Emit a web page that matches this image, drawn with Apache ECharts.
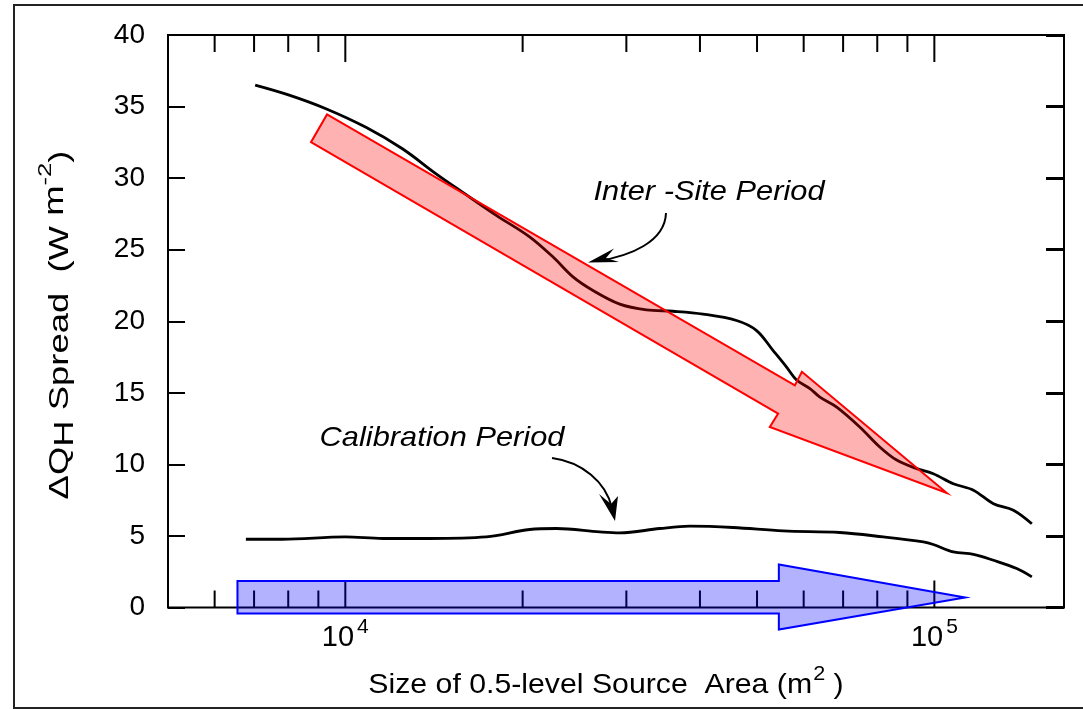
<!DOCTYPE html>
<html><head><meta charset="utf-8">
<script src="https://cdn.jsdelivr.net/npm/echarts@6/dist/echarts.min.js"></script>
<style>html,body{margin:0;padding:0;background:#fff}#c{width:1083px;height:709px}</style>
</head><body><div id="c"></div>
<script>
// ---- data ----
const interSiteX = [7030, 8030, 9270, 10840, 12500, 14260, 15830, 18040, 20550, 22510, 24350, 26330, 29230, 32450, 36010, 40500, 46150, 49910, 53250, 56120, 58360, 61480, 63930, 68270, 74770, 80870, 86310, 93350, 99600, 107700, 116500, 126000, 136200, 146400];
const interSiteY = [36.5, 35.8, 34.85, 33.55, 32.05, 30.3, 29.0, 27.4, 25.9, 24.5, 23.1, 22.15, 21.2, 20.8, 20.7, 20.5, 20.05, 19.35, 17.95, 16.8, 15.9, 15.3, 14.7, 14.0, 12.6, 11.2, 10.3, 9.7, 9.35, 8.65, 8.2, 7.25, 6.8, 5.85];
const calibrationX = [6780, 7820, 10000, 11570, 13890, 17350, 20550, 22810, 27030, 29230, 34190, 38430, 45530, 55380, 69130, 81900, 95790, 99600, 107700, 116500, 126000, 138000, 146400];
const calibrationY = [4.77, 4.77, 4.93, 4.82, 4.82, 4.93, 5.45, 5.52, 5.28, 5.21, 5.52, 5.68, 5.59, 5.35, 5.24, 4.93, 4.58, 4.40, 3.88, 3.72, 3.30, 2.72, 2.14];

const xMin = 5000, xMax = 166000;
const yMin = 0, yMax = 40, yStep = 5;
const xMajorTicks = [10000, 100000];
const xTickExponents = ['4', '5'];
const xMinorTicks = [6000, 7000, 8000, 9000, 20000, 30000, 40000, 50000, 60000, 70000, 80000, 90000];

// block-arrow outlines, in data units (x = area, y = spread)
const redArrowX = [9309, 57970, 59580, 105000, 52560, 54300, 8744];
const redArrowY = [34.45, 15.52, 16.47, 8.00, 12.61, 13.55, 32.51];
const blueArrowX = [6560, 54450, 54450, 112800, 54450, 54450, 6560];
const blueArrowY = [1.86, 1.86, 3.00, 0.70, -1.54, -0.42, -0.42];

// ---- chart ----
const FONT = '"Liberation Sans", Arial, sans-serif';
const chart = echarts.init(document.getElementById('c'), null, {renderer: 'canvas'});

function pairs(xs, ys) { return xs.map((x, i) => [x, ys[i]]); }

function tickRenderer(len) {
  return function (params, api) {
    const v = api.value(0);
    const b = api.coord([v, yMin]);
    const t = api.coord([v, yMax]);
    return {
      type: 'group',
      children: [
        {type: 'line', shape: {x1: b[0], y1: b[1], x2: b[0], y2: b[1] - len}, style: {stroke: '#000', lineWidth: 2}},
        {type: 'line', shape: {x1: t[0], y1: t[1], x2: t[0], y2: t[1] + len}, style: {stroke: '#000', lineWidth: 2}}
      ]
    };
  };
}

function arrowRenderer(xs, ys, fill, stroke) {
  return function (params, api) {
    const pts = xs.map((x, i) => api.coord([x, ys[i]]));
    return {type: 'polygon', shape: {points: pts}, style: {fill: fill, stroke: stroke, lineWidth: 2, lineJoin: 'miter'}};
  };
}

const expByValue = {};
xMajorTicks.forEach((v, i) => { expByValue[v] = xTickExponents[i]; });

const option = {
  animation: false,
  backgroundColor: '#fff',
  grid: {left: 168, right: 19, top: 35, bottom: 101.5, show: true, borderColor: '#000', borderWidth: 2, backgroundColor: 'transparent'},
  xAxis: {
    type: 'log', logBase: 10, min: xMin, max: xMax,
    axisLine: {show: false}, axisTick: {show: false}, splitLine: {show: false}, minorTick: {show: false},
    axisLabel: {
      margin: 15,
      fontSize: 28, fontFamily: FONT, color: '#000',
      formatter: function (v) {
        const e = Math.log10(v);
        const r = Math.round(e);
        if (Math.abs(e - r) < 1e-9 && expByValue[Math.pow(10, r)] !== undefined) {
          return '{b|10}{s|' + expByValue[Math.pow(10, r)] + '}';
        }
        return '';
      },
      rich: {
        b: {fontSize: 29, fontFamily: FONT, color: '#000', lineHeight: 30, verticalAlign: 'middle'},
        s: {fontSize: 21, fontFamily: FONT, color: '#000', lineHeight: 20, verticalAlign: 'middle', padding: [0, 0, 21, 3]}
      }
    }
  },
  yAxis: [
    {
      type: 'value', min: yMin, max: yMax, interval: yStep, position: 'left',
      axisLine: {show: false}, splitLine: {show: false},
      axisTick: {show: true, inside: true, length: 17, lineStyle: {color: '#000', width: 2}},
      axisLabel: {fontSize: 28, color: '#000', fontFamily: FONT, margin: 23, padding: [0, 0, 8, 0]}
    },
    {
      type: 'value', min: yMin, max: yMax, interval: yStep, position: 'right',
      axisLine: {show: false}, splitLine: {show: false},
      axisTick: {show: true, inside: true, length: 18, lineStyle: {color: '#000', width: 3}},
      axisLabel: {show: false}
    }
  ],
  series: [
    {type: 'custom', name: 'major ticks', coordinateSystem: 'cartesian2d', z: 2, clip: false, silent: true,
     data: xMajorTicks.map(v => [v, yMin]), renderItem: tickRenderer(27)},
    {type: 'custom', name: 'minor ticks', coordinateSystem: 'cartesian2d', z: 2, clip: false, silent: true,
     data: xMinorTicks.map(v => [v, yMin]), renderItem: tickRenderer(17)},
    {type: 'line', name: 'Calibration Period', data: pairs(calibrationX, calibrationY), z: 3,
     showSymbol: false, smooth: 0.35, lineStyle: {color: '#000', width: 2.8}},
    {type: 'line', name: 'Inter-Site Period', data: pairs(interSiteX, interSiteY), z: 3,
     showSymbol: false, smooth: 0.35, lineStyle: {color: '#000', width: 2.8}},
    {type: 'custom', name: 'inter-site arrow', coordinateSystem: 'cartesian2d', z: 4, clip: false, silent: true,
     data: [[redArrowX[0], redArrowY[0]]], renderItem: arrowRenderer(redArrowX, redArrowY, 'rgba(255,0,0,0.3)', '#ff0000')},
    {type: 'custom', name: 'calibration arrow', coordinateSystem: 'cartesian2d', z: 4, clip: false, silent: true,
     data: [[blueArrowX[0], blueArrowY[0]]], renderItem: arrowRenderer(blueArrowX, blueArrowY, 'rgba(0,0,255,0.3)', '#0000ff')}
  ],
  graphic: [
    {type: 'rect', silent: true, z: 0, shape: {x: 14, y: 5, width: 1080, height: 703}, style: {fill: null, stroke: '#222', lineWidth: 2}},
    {type: 'text', silent: true, x: 709, y: 192, scaleX: 1.1,
     style: {text: 'Inter -Site Period', font: 'italic 28px ' + FONT, fill: '#000', align: 'center', verticalAlign: 'middle', textAlign: 'center', textVerticalAlign: 'middle'}},
    {type: 'text', silent: true, x: 442, y: 438.5, scaleX: 1.1,
     style: {text: 'Calibration Period', font: 'italic 28px ' + FONT, fill: '#000', align: 'center', verticalAlign: 'middle', textAlign: 'center', textVerticalAlign: 'middle'}},
    {type: 'bezierCurve', silent: true, shape: {x1: 666, y1: 213, cpx1: 665, cpy1: 242, cpx2: 630, cpy2: 256, x2: 598, y2: 261}, style: {stroke: '#000', lineWidth: 2, fill: null}},
    {type: 'polygon', silent: true, shape: {points: [[588, 262.5], [614, 248.5], [606, 258], [619, 262]]}, style: {fill: '#000'}},
    {type: 'bezierCurve', silent: true, shape: {x1: 552, y1: 458, cpx1: 582, cpy1: 462, cpx2: 606, cpy2: 482, x2: 612, y2: 508}, style: {stroke: '#000', lineWidth: 2, fill: null}},
    {type: 'polygon', silent: true, shape: {points: [[615, 521], [599, 494], [611, 504], [618, 496]]}, style: {fill: '#000'}},
    {type: 'text', silent: true, x: 606, y: 685, scaleX: 1.08,
     style: {text: '{n|Size of 0.5-level Source  Area (m}{sup|2}{n| )}', align: 'center', verticalAlign: 'middle', textAlign: 'center', textVerticalAlign: 'middle',
       font: '28px ' + FONT, fill: '#000',
       rich: {
         n: {fontSize: 28, fontFamily: FONT, fill: '#000', lineHeight: 28, verticalAlign: 'middle'},
         sup: {fontSize: 20, fontFamily: FONT, fill: '#000', lineHeight: 20, verticalAlign: 'middle', padding: [0, 0, 22, 1]}
       }}},
    {type: 'text', silent: true, x: 61, y: 325, rotation: Math.PI / 2, scaleX: 1.35,
     style: {text: '{n|\u0394Q}{sub|H}{n| Spread  (W }{m|m}{sup|-2}{n|)}', align: 'center', verticalAlign: 'middle', textAlign: 'center', textVerticalAlign: 'middle',
       font: '27px ' + FONT, fill: '#000',
       rich: {
         n: {fontSize: 27, fontFamily: FONT, fill: '#000', lineHeight: 27, verticalAlign: 'middle'},
         sub: {fontSize: 27, fontFamily: FONT, fill: '#000', lineHeight: 27, verticalAlign: 'middle', padding: [10, 0, 0, 0]},
         m: {fontSize: 27, fontFamily: FONT, fill: '#000', lineHeight: 27, verticalAlign: 'middle', padding: [0, 0, 10, 0]},
         sup: {fontSize: 19, fontFamily: FONT, fill: '#000', lineHeight: 19, verticalAlign: 'middle', padding: [0, 0, 30, 0]}
       }}}
  ]
};
chart.setOption(option);
</script>
</body></html>
